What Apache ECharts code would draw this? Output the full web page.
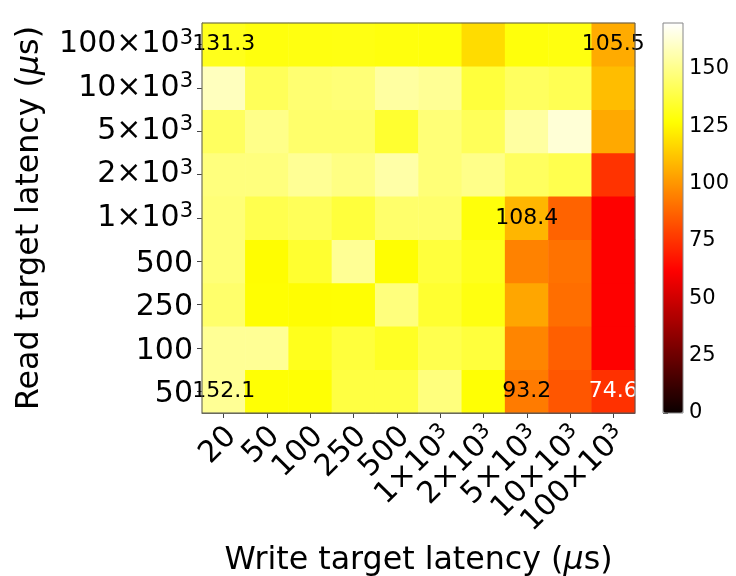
<!DOCTYPE html>
<html><head><meta charset="utf-8">
<script src="https://cdn.jsdelivr.net/npm/echarts@6/dist/echarts.min.js"></script>
<style>html,body{margin:0;padding:0;background:#fff}#c{width:736px;height:576px}</style>
</head><body><div id="c"></div>
<script>
// x categories (write target latency), left to right
const writeLabels = ['20','50','100','250','500','1×10³','2×10³','5×10³','10×10³','100×10³'];
// y categories (read target latency), bottom to top
const readLabels = ['50','100','250','500','1×10³','2×10³','5×10³','10×10³','100×10³'];
// one array per read latency row, values across write latency columns
const row50   = [152.1, 127.5, 127.5, 138, 138, 148, 127.5, 93.2, 84, 74.6];
const row100  = [152, 152, 131.5, 137, 133, 140, 137, 96, 86, 62];
const row250  = [145, 127, 126.7, 127.2, 148, 135, 129.5, 104, 90, 62];
const row500  = [147, 126.5, 135, 152, 127, 137, 131.5, 95, 91, 62];
const row1k   = [147, 140, 142, 137, 145, 145, 128.5, 108.4, 87, 62];
const row2k   = [148, 148, 152, 149, 155, 147, 150, 143, 140, 75];
const row5k   = [143, 150, 145, 145, 135, 147, 142, 154, 163, 105];
const row10k  = [159, 142, 146, 147, 154, 152, 137, 143, 141, 110];
const row100k = [131.3, 129, 129.5, 129.8, 129, 128.6, 118, 128.7, 129.3, 105.5];
const rows = [row50, row100, row250, row500, row1k, row2k, row5k, row10k, row100k];
// annotated cells: [column index, row index]
const annotated = [[0,0],[7,0],[9,0],[7,4],[0,8],[9,8]];
const colorbarTicks = [0, 25, 50, 75, 100, 125, 150];
const vmin = 0, vmax = 170;

function hot(t){
  const c = v => Math.max(0, Math.min(1, v));
  const r = c(0.0416 + (1 - 0.0416) * t / 0.365079);
  const g = c((t - 0.365079) / (0.746032 - 0.365079));
  const b = c((t - 0.746032) / (1 - 0.746032));
  const h = v => Math.round(v * 255).toString(16).padStart(2, '0');
  return '#' + h(r) + h(g) + h(b);
}
const hotStops = [];
for (let i = 0; i <= 128; i++) hotStops.push(hot(i / 128));

const data = [];
rows.forEach((row, r) => row.forEach((v, c) => {
  const isAnn = annotated.some(a => a[0] === c && a[1] === r);
  const item = { value: [c, r, v] };
  if (isAnn) item.label = { show: true, color: v < 80 ? '#fff' : '#000' };
  data.push(item);
}));

const FONT = 'DejaVu Sans';
function xTickFmt(v){
  const m = v.match(/^(\d+)×10³$/);
  if (m) return '{b|' + m[1] + '×10}{s|3}';
  return '{b|' + v + '}';
}
function yTickFmt(v){
  const m = v.match(/^(\d+)×10³$/);
  if (m) return '{b|' + m[1] + '×10}{s|3}';
  return '{p|' + v + '}';
}
const tickRich = {
  b: { fontSize: 30, fontFamily: FONT, color: '#000', lineHeight: 34 },
  p: { fontSize: 30, fontFamily: FONT, color: '#000', lineHeight: 34, padding: [6, 0, 0, 0] },
  s: { fontSize: 21, fontFamily: FONT, color: '#000', verticalAlign: 'top', lineHeight: 20 }
};
const nameRich = {
  n: { fontSize: 31.7, fontFamily: FONT, color: '#000' },
  i: { fontSize: 31.7, fontFamily: FONT, color: '#000', fontStyle: 'italic' }
};

const chart = echarts.init(document.getElementById('c'), null, { renderer: 'canvas' });
chart.setOption({
  animation: false,
  backgroundColor: '#fff',
  grid: [
    { left: 202, top: 23, width: 433, height: 390, show: true, z: 10, borderColor: '#555', borderWidth: 1, backgroundColor: 'transparent', containLabel: false, outerBoundsMode: 'none' },
    { left: 663, top: 23, width: 20, height: 390, show: true, z: 10, borderColor: '#888', borderWidth: 1, backgroundColor: 'transparent', containLabel: false, outerBoundsMode: 'none' }
  ],
  xAxis: [
    {
      gridIndex: 0, type: 'category', data: writeLabels,
      axisLine: { show: true, lineStyle: { color: '#555' } },
      axisTick: { show: true, alignWithLabel: true, length: 5, lineStyle: { color: '#444' } },
      axisLabel: { interval: 0, rotate: 45, margin: 3, padding: [34, 5.5, 0, 0], formatter: xTickFmt, rich: tickRich },
      splitLine: { show: false },
      name: '{n|Write target latency (}{i|μ}{n|s)}',
      nameLocation: 'middle', nameGap: 132, nameTextStyle: { rich: nameRich }
    },
    { gridIndex: 1, type: 'value', show: false, min: 0, max: 1 }
  ],
  yAxis: [
    {
      gridIndex: 0, type: 'category', data: readLabels,
      axisLine: { show: true, lineStyle: { color: '#555' } },
      axisTick: { show: true, alignWithLabel: true, length: 5, lineStyle: { color: '#444' } },
      axisLabel: { interval: 0, margin: 9, formatter: yTickFmt, rich: tickRich },
      splitLine: { show: false },
      name: '{n|Read target latency (}{i|μ}{n|s)}',
      nameLocation: 'middle', nameGap: 156, nameTextStyle: { rich: nameRich }
    },
    {
      gridIndex: 1, type: 'value', min: vmin, max: vmax, position: 'right',
      axisLine: { show: false },
      axisTick: { show: true, length: 5, customValues: colorbarTicks, lineStyle: { color: '#444' } },
      axisLabel: { customValues: colorbarTicks, fontSize: 21, fontFamily: FONT, color: '#000', margin: 6 },
      splitLine: { show: false }
    }
  ],
  visualMap: {
    type: 'continuous', min: vmin, max: vmax, calculable: false, show: true,
    seriesIndex: 0, orient: 'vertical', left: 663, top: 23, itemWidth: 20, itemHeight: 390,
    padding: 0, hoverLink: false, inRange: { color: hotStops }
  },
  series: [{
    type: 'heatmap', xAxisIndex: 0, yAxisIndex: 0, data: data,
    label: { show: false, fontSize: 22, fontFamily: FONT, color: '#000', formatter: p => String(p.value[2]) },
    emphasis: { disabled: true },
    itemStyle: { borderWidth: 0 }
  }]
});
</script></body></html>
